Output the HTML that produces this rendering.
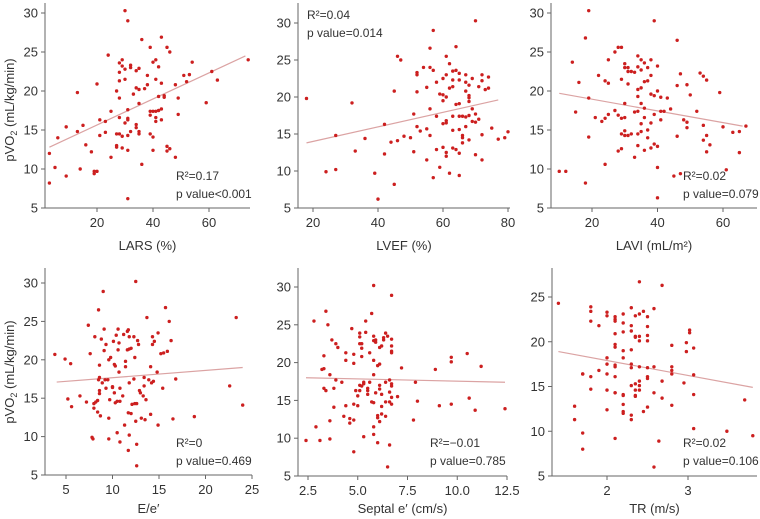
<!DOCTYPE html>
<html><head><meta charset="utf-8"><style>
html,body{margin:0;padding:0;background:#fff;}
svg{display:block;font-family:"Liberation Sans",Arial,sans-serif;}
</style></head><body>
<svg id="chart" width="760" height="519" viewBox="0 0 760 519" xmlns="http://www.w3.org/2000/svg">
<text transform="translate(14,110) rotate(-90)" text-anchor="middle" font-size="13" fill="#333">pVO<tspan font-size="9" dy="3">2</tspan><tspan dy="-3"> (mL/kg/min)</tspan></text>
<text transform="translate(14,372) rotate(-90)" text-anchor="middle" font-size="13" fill="#333">pVO<tspan font-size="9" dy="3">2</tspan><tspan dy="-3"> (mL/kg/min)</tspan></text>
</svg>
<script>
const larsX=[3,3,5,6,9,9,13,13,14,15,16,18,19,19,20,20,21,21,23,23,24,25,25,27,27,27,27,28,28,28,28,28,28,29,29,29,29,30,30,30,30,31,31,31,31,31,31,31,32,32,32,33,34,34,34,34,35,35,35,35,35,36,36,37,38,38,39,39,39,39,40,40,40,40,41,41,41,41,41,42,42,42,43,43,43,43,44,44,45,45,45,46,46,48,48,49,49,51,52,53,54,59,61,63,74];
const larsY=[12,8.2,10.2,14,15.4,9.1,19.8,14.8,10,15.6,13.1,12.2,9.7,9.4,9.7,20.9,16.3,14.3,16.1,14.7,24.6,17.4,11.5,20,14.5,13,12.8,23.6,22.4,21.3,19.1,16.6,14.5,24,23.2,14.2,12.7,30.3,22.8,21.5,15.9,29,17.6,16.5,16.3,14.3,12.4,6.2,23.3,23,14.8,19.6,22.6,20.4,15.7,15.3,22.9,20.2,18.4,14.8,14.5,26.6,10.6,20.3,22,20.8,25.6,17.4,16.9,14.5,23.7,17.4,12.4,14.1,24,21.5,17.4,16.6,16.1,23.1,19.3,17.5,26.9,21,17.7,16.3,19.4,19.2,25.6,12.9,12.3,25,12.6,20.8,11.5,19.1,17,22,21.2,22.1,23.7,18.5,22.5,21.4,24];
const larsFit=[[3,12.8],[73,24.5]];

const lvefX=[18,24,27,27,32,33,36,39,40,42,42,44,45,45,46,46,47,48,50,51,51,52,52,52,52,53,54,55,55,55,56,56,56,56,57,57,57,58,58,58,59,59,60,60,60,60,60,61,61,61,61,61,61,61,62,62,62,63,63,63,63,63,63,64,64,64,64,65,65,65,65,65,65,65,66,66,66,66,67,67,67,67,67,68,68,68,68,68,68,69,69,69,70,70,70,70,71,71,72,72,72,72,73,74,74,75,77,79,80];
const lvefY=[19.8,9.9,14.8,10.2,19.2,12.7,14.4,9.7,6.2,16.3,12.3,13.9,20.8,8.2,25.5,14.1,25,14.7,14.5,17.7,12.6,23.3,23,20.7,16,15.4,24,15.7,11.5,21.3,26.6,24,18.4,14.8,29,23.6,9.1,22,17.4,12.9,20.4,10.5,22.5,20.3,19.5,16.4,13.2,25.5,23,20,16.8,16.5,12.5,12,24.5,21.2,9.7,23.5,22.3,21.4,17.4,15.5,13.1,26.8,23.6,19,12.9,23.2,22.3,19.1,17.4,15.6,12.4,9.4,17.4,14.8,14.5,13.8,23,22,20.8,17.3,16,21.6,20.2,19.9,19.4,17.5,14.2,22.5,18.4,16.7,30.3,17.7,16.6,12.2,21.4,17,23,22.2,14.9,11.5,21,22.7,21.2,15.8,14.3,14.5,15.3];
const lvefFit=[[18,13.8],[77,19.6]];

const laviX=[10,12,14,15,16,18,18,19,19,19,21,22,23,24,24,24,25,25,25,27,27,28,28,28,29,29,29,29,29,30,30,30,30,30,30,31,31,31,31,32,32,33,33,33,34,34,34,34,34,34,34,35,35,35,35,35,35,36,36,36,36,36,37,37,37,37,38,38,38,38,38,39,39,39,39,40,40,40,40,40,41,41,41,42,43,44,45,46,46,46,47,47,48,49,49,49,50,52,53,54,54,54,55,55,55,56,59,60,61,63,65,65,67];
const laviY=[9.7,9.7,23.7,17.3,21.1,26.8,8.2,30.3,19.1,14.1,16.6,22,16.1,16.5,21.3,10.6,17,24,21,25,17.5,25.6,16.9,12.3,25.6,21.5,16.5,14.5,12.6,23,16.6,14.3,23.5,18.4,14.9,22.5,23,20.9,14.3,22.5,14.5,22.4,17.3,11.5,24.5,23.1,20.2,19.3,13,17.4,14.5,24,22.7,20.4,18.4,15.8,14.8,23.6,21.2,17.8,16.6,12.4,23,21.3,15,14,24,22,19.6,15.9,12.7,29,19.4,17,13.2,23.2,20,12.9,10.2,6.3,19.2,17.4,16.3,17.4,19.1,17.7,9.1,26.5,20.7,14.2,22.2,9.4,16.3,20.8,16,15.3,19.5,17.4,22.3,21.9,13.7,15.6,14.3,12.2,21.4,13.1,19.8,15.4,9.9,14.7,14.8,12.1,15.5];
const laviFit=[[10,19.7],[66,15.5]];

const eeX=[3.8,4.9,5.2,5.5,5.6,6.5,7.2,7.4,7.6,7.8,7.9,8,8,8.1,8.2,8.4,8.4,8.5,8.5,8.6,8.6,8.6,8.6,8.7,8.8,8.9,9,9.1,9.1,9.2,9.3,9.3,9.5,9.6,9.6,9.6,9.7,9.8,10,10,10.1,10.2,10.2,10.3,10.3,10.4,10.5,10.5,10.6,10.6,10.7,10.7,10.8,10.8,10.8,11.1,11.2,11.3,11.4,11.4,11.6,11.6,11.7,11.7,11.7,11.8,11.8,11.8,11.8,12,12,12.1,12.3,12.3,12.4,12.4,12.5,12.5,12.6,12.6,12.6,12.7,12.8,12.9,13,13.1,13.3,13.4,13.4,13.5,13.6,13.7,13.9,14.1,14.1,14.2,14.3,14.3,14.4,14.5,14.8,14.9,14.9,15.2,15.4,15.5,15.7,15.9,16.1,16.3,16.5,16.8,18.8,22.6,23.3,24];
const eeY=[20.7,20.1,14.9,19.5,13.9,15.3,14.5,24.5,20.8,9.9,9.7,14.3,13.7,23,14.5,13.2,14.7,26.5,17.4,19.3,17.7,16,15.6,12.7,22.7,17,28.9,24,21.2,17.4,22,16.3,17.4,20,12.4,9.7,14.8,20.3,16.5,16.4,22.4,15.7,19.4,14.4,19.2,23.2,10.5,14.6,24,21.3,22.2,18.4,16.3,14.6,9.3,15.3,23.3,11.5,19.8,19.1,21.3,23.7,13.1,8.2,23.9,21.4,17,10.2,23,21.5,13,14.2,23,17.5,14.3,20.3,12,30.2,9,6.2,14.3,22.5,22,16,15.7,12.4,15.3,17.7,16.6,12.2,14.8,25.5,17.4,19.1,12.9,17,22,23,17.2,22.4,18.4,23.5,11.5,20.8,16.3,20.9,26.8,21.1,25,22.5,12.3,17.5,12.6,16.6,25.5,14.1];
const eeFit=[[4,17.1],[24,19]];

const septX=[2.4,2.8,2.9,3.1,3.2,3.3,3.3,3.3,3.4,3.4,3.5,3.6,3.6,3.6,3.7,3.8,3.8,3.9,3.9,4,4.2,4.3,4.4,4.4,4.4,4.6,4.6,4.7,4.8,4.8,4.8,4.8,4.8,4.9,5,5,5.1,5.1,5.1,5.1,5.1,5.2,5.2,5.2,5.2,5.3,5.3,5.3,5.4,5.4,5.5,5.5,5.5,5.6,5.6,5.7,5.7,5.8,5.8,5.8,5.8,5.8,5.8,5.8,5.8,5.9,5.9,5.9,6,6,6,6,6.1,6.1,6.1,6.1,6.1,6.2,6.2,6.2,6.2,6.3,6.3,6.4,6.4,6.4,6.4,6.5,6.5,6.6,6.6,6.6,6.6,6.7,6.7,6.7,6.7,6.7,6.7,6.7,6.7,6.7,7,7.2,7.8,7.9,8,8.9,9.1,9.7,9.7,9.7,10.5,10.6,10.9,11.2,12.4];
const septY=[9.7,25.5,11.5,9.7,19.1,19.2,16.6,20.9,26.8,16.3,25,12.3,9.9,18.4,23,16.6,14.1,17.7,22.5,22,17.4,12.9,21.3,20.3,14.3,12.6,12,24.5,21.1,19.9,14.5,12.4,8.2,16.3,15.6,14.3,23.9,23.4,22.5,16.3,17,22.5,21.9,20.8,16.9,17.4,17.2,10.2,24,25.5,16.6,15.8,16.3,21.3,17.4,26.5,14.8,30.2,23.5,22.9,20.3,18.4,14.7,11.5,10.5,23,22.7,16,19.6,9.4,13,12.7,19.8,17,16.5,12.2,22,22.2,15.8,14.2,13.2,23,23.3,23.9,17.4,14.8,12.9,23.5,6.2,17.7,16.1,14.8,9.1,28.9,23.1,22.2,21.5,21.3,17.2,16.9,15.4,14.5,15.5,19.3,12.4,17.4,14.9,19.1,14.3,20.7,20.1,14.5,21.2,15.3,13.7,19.5,13.9];
const septFit=[[2.4,18],[12.4,17.4]];

const trX=[1.4,1.6,1.6,1.7,1.7,1.7,1.7,1.8,1.8,1.8,1.8,1.8,1.9,1.9,2,2,2,2,2,2,2,2.1,2.1,2.1,2.1,2.1,2.1,2.1,2.1,2.1,2.1,2.1,2.1,2.2,2.2,2.2,2.2,2.2,2.2,2.2,2.2,2.2,2.2,2.3,2.3,2.3,2.3,2.3,2.3,2.3,2.3,2.3,2.35,2.35,2.35,2.35,2.35,2.35,2.35,2.4,2.4,2.4,2.4,2.4,2.4,2.4,2.4,2.45,2.45,2.5,2.5,2.5,2.5,2.5,2.5,2.5,2.5,2.58,2.58,2.58,2.58,2.64,2.68,2.68,2.68,2.8,2.8,2.8,2.8,2.8,2.95,3.02,3.02,2.98,2.98,3.07,3.07,3.07,3.07,3.48,3.7,3.8];
const trY=[24.3,11.3,12.8,16.4,16.4,8,9.8,14.7,23.9,16.1,23.4,22.3,16.8,21.8,23.3,22.9,18.2,17.5,16.4,14.6,12.4,22.8,22.5,22.3,20.9,19.7,19.4,17.2,16.1,14.3,14.3,9.2,17.4,19,23.1,22.1,21.1,18.2,14.1,14,13,12.2,12,23.8,21.8,21.2,19.1,17.5,17.1,11.8,11.3,15.1,22.9,20.6,20.5,15.3,14.6,14,13.9,26.7,23.1,20.6,20.1,17.2,15.6,15.1,14.6,23.4,12.2,22.8,21.7,20.7,20.1,17.1,16.1,15.9,12.7,6,23.7,17.2,14.3,8.9,26.3,15.6,13.7,12.9,19.6,17.2,16.8,16.4,15.4,21,21.3,19.9,18.9,14.1,19.3,16.3,10.3,10,13.5,9.5,9.5];
const trFit=[[1.4,18.9],[3.8,14.9]];

const larsTicks=[20,40,60], lvefTicks=[20,40,60,80], laviTicks=[20,40,60];
const eeTicks=[5,10,15,20,25], septTicks=[2.5,5,7.5,10,12.5], trTicks=[2,3];
const yTicksA=[5,10,15,20,25,30], yTicksTR=[5,10,15,20,25];

const NS='http://www.w3.org/2000/svg';
const svg=document.getElementById('chart');
function mk(tag,attrs,parent){const e=document.createElementNS(NS,tag);for(const k in attrs)e.setAttribute(k,attrs[k]);(parent||svg).appendChild(e);return e;}
function lin(d0,d1,r0,r1){return v=>r0+(v-d0)*(r1-r0)/(d1-d0);}

const panels=[
 {id:'lars',xs:larsX,ys:larsY,fit:larsFit,xt:larsTicks,yt:yTicksA,ax:45,top:3,bot:208,right:250,xm:[20,60,97,209],ym:[5,30,208,13],title:'LARS (%)',stat:['R²=0.17','p value<0.001'],sx:176,sy:176,dec:0,tOff:42},
 {id:'lvef',xs:lvefX,ys:lvefY,fit:lvefFit,xt:lvefTicks,yt:yTicksA,ax:298,top:3,bot:208,right:510,xm:[20,80,313,508],ym:[5,30,208,23],title:'LVEF (%)',stat:['R²=0.04','p value=0.014'],sx:307,sy:15,dec:0,tOff:42},
 {id:'lavi',xs:laviX,ys:laviY,fit:laviFit,xt:laviTicks,yt:yTicksA,ax:551,top:3,bot:208,right:757,xm:[20,60,592,723],ym:[5,30,208,13],title:'LAVI (mL/m²)',stat:['R²=0.02','p value=0.079'],sx:683,sy:176,dec:0,tOff:42},
 {id:'ee',xs:eeX,ys:eeY,fit:eeFit,xt:eeTicks,yt:yTicksA,ax:45,top:268,bot:475,right:252,xm:[5,25,66,252],ym:[5,30,475,283],title:'E/e′',stat:['R²=0','p value=0.469'],sx:176,sy:443,dec:0,tOff:38},
 {id:'septal',xs:septX,ys:septY,fit:septFit,xt:septTicks,yt:yTicksA,ax:298,top:268,bot:476,right:507,xm:[2.5,12.5,308,507],ym:[5,30,476,287],title:'Septal e′ (cm/s)',stat:['R²=−0.01','p value=0.785'],sx:430,sy:443,dec:1,tOff:37},
 {id:'tr',xs:trX,ys:trY,fit:trFit,xt:trTicks,yt:yTicksTR,ax:552,top:268,bot:476,right:757,xm:[2,3,607,688],ym:[5,25,476,297],title:'TR (m/s)',stat:['R²=0.02','p value=0.106'],sx:683,sy:443,dec:0,tOff:37}
];

panels.forEach(p=>{
 const g=mk('g',{});
 
 
 const X=lin(p.xm[0],p.xm[1],p.xm[2],p.xm[3]);
 const Y=lin(p.ym[0],p.ym[1],p.ym[2],p.ym[3]);
 const ya=mk('line',{x1:p.ax,y1:p.top,x2:p.ax,y2:p.bot,stroke:'#666','stroke-width':1},g);
 
 
 const xa=mk('line',{x1:p.ax,y1:p.bot,x2:p.right,y2:p.bot,stroke:'#666','stroke-width':1},g);
 
 
 p.yt.forEach(v=>{
  const y=Y(v);
  mk('line',{x1:p.ax-4,y1:y,x2:p.ax,y2:y,stroke:'#666'},g);
  const t=mk('text',{x:p.ax-7,y:y+4.5,'text-anchor':'end','font-size':13,fill:'#333'},g);
  t.textContent=v;
  
  
 });
 p.xt.forEach(v=>{
  const x=X(v);
  mk('line',{x1:x,y1:p.bot,x2:x,y2:p.bot+4,stroke:'#666'},g);
  const t=mk('text',{x:x,y:p.bot+19,'text-anchor':'middle','font-size':13,fill:'#333'},g);
  t.textContent=v.toFixed(p.dec);
  
  
 });
 const fl=mk('line',{x1:X(p.fit[0][0]),y1:Y(p.fit[0][1]),x2:X(p.fit[1][0]),y2:Y(p.fit[1][1]),stroke:'#dba3a3','stroke-width':1.2},g);
 
 
 p.xs.forEach((v,i)=>{
  const c=mk('circle',{cx:X(v),cy:Y(p.ys[i]),r:1.7,fill:'#cc1f1f'},g);
  
  
 });
 const tt=mk('text',{x:(p.ax+p.right)/2,y:p.bot+p.tOff,'text-anchor':'middle','font-size':13,fill:'#333'},g);
 tt.textContent=p.title;
 
 
 p.stat.forEach((s,i)=>{
  const t=mk('text',{x:p.sx,y:p.sy+4+i*18,'font-size':12,fill:'#333'},g);
  t.textContent=s;
  
  
 });
});
</script>
</body></html>
